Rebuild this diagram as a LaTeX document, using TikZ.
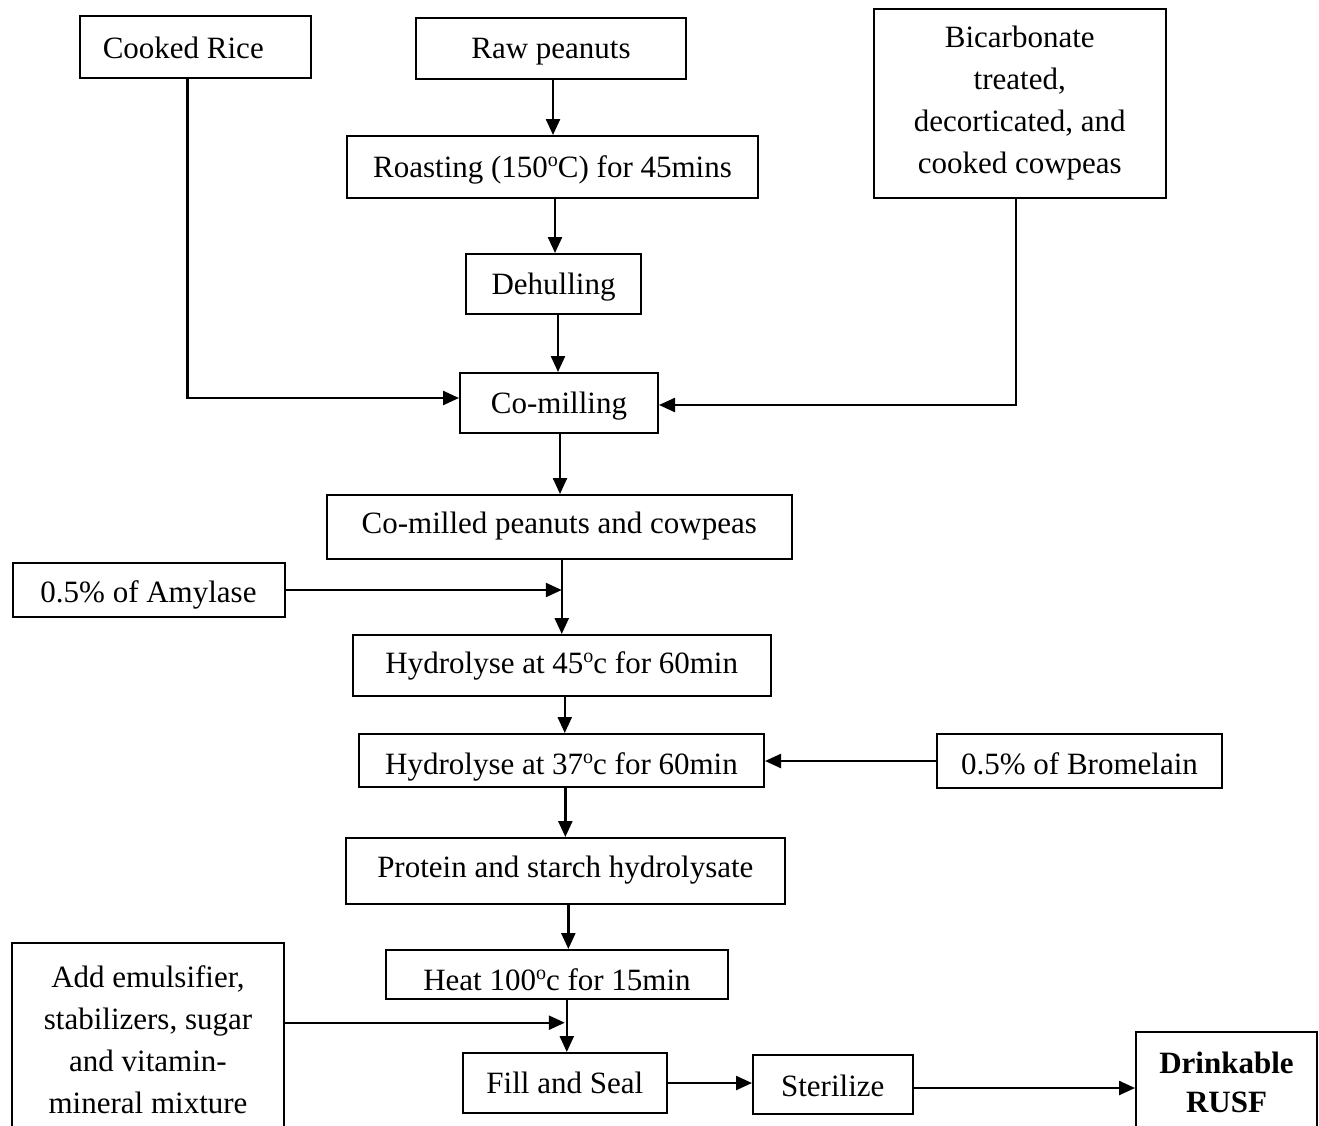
\documentclass[tikz,border=0pt]{standalone}
\usepackage{fontspec}
\setmainfont{Liberation Serif}
\usetikzlibrary{arrows.meta,calc}
\newcommand\degsup{\raisebox{0.36em}{\fontsize{20}{20}\selectfont o}}
\tikzset{
  box/.style={draw, line width=2pt, inner sep=0pt, align=center,
    font=\fontsize{31}{42}\selectfont},
  one/.style={text height=20.5pt, text depth=0pt},
  arr/.style={line width=2.4pt, -{Triangle[length=16pt,width=14pt]}}
}
\begin{document}
\begin{tikzpicture}[x=1pt,y=-1pt]
\useasboundingbox (0,0) rectangle (1319,1125);
\fill[white] (0,0) rectangle (1319,1125);
\clip (0,0) rectangle (1319,1125);
% nodes
\node[box, one, minimum width=231.5pt, minimum height=62pt] (rice) at (195.25,47) {\raisebox{-1pt}{Cooked Rice}\hspace*{24pt}};
\node[box, one, minimum width=270pt, minimum height=61pt] (raw) at (551,48.5) {Raw peanuts};
\node[box, one, minimum width=411pt, minimum height=62pt] (roast) at (552.5,167) {Roasting (150\degsup C) for 45mins};
\node[box, one, minimum width=175pt, minimum height=60pt] (dehull) at (553.5,284) {Dehulling};
\node[box, one, minimum width=198pt, minimum height=60pt] (comill) at (559,403) {Co-milling};
\node[box, minimum width=292.5pt, minimum height=189pt] (bicarb) at (1019.75,103.5) {Bicarbonate\\treated,\\decorticated, and\\cooked cowpeas};
\node[box, one, minimum width=465.5pt, minimum height=64pt] (comilled) at (559.25,527) {\raisebox{4pt}{Co-milled peanuts and cowpeas}};
\node[box, one, minimum width=272pt, minimum height=54pt] (amyl) at (148.5,590) {\raisebox{-2.5pt}{0.5\% of Amylase}};
\node[box, one, minimum width=418.5pt, minimum height=61pt] (hyd45) at (561.75,665.5) {\raisebox{2pt}{Hydrolyse at 45\degsup c for 60min}};
\node[box, one, minimum width=405pt, minimum height=53pt] (hyd37) at (561.5,760.5) {\raisebox{-3.5pt}{Hydrolyse at 37\degsup c for 60min}};
\node[box, one, minimum width=285pt, minimum height=54pt] (brom) at (1079.5,761) {\raisebox{-3pt}{0.5\% of Bromelain}};
\node[box, one, minimum width=439.3pt, minimum height=66pt] (protein) at (565.35,871) {\raisebox{4pt}{Protein and starch hydrolysate}};
\node[box, one, minimum width=342pt, minimum height=49pt] (heat) at (557,974.5) {\raisebox{-5.5pt}{Heat 100\degsup c for 15min}};
\node[box, minimum width=271.5pt, minimum height=194pt] (emuls) at (148,1040) {Add emulsifier,\\stabilizers, sugar\\and vitamin-\\mineral mixture};
\node[box, one, minimum width=204.4pt, minimum height=60pt] (fill) at (564.8,1083) {Fill and Seal};
\node[box, one, minimum width=159.5pt, minimum height=59pt] (steril) at (832.75,1084.5) {\raisebox{-1.5pt}{Sterilize}};
\node[box, minimum width=181pt, minimum height=101pt, font=\fontsize{31}{39}\selectfont\bfseries] (rusf) at (1226.5,1082.5) {Drinkable\\RUSF};
% connectors
\draw[arr] ([xshift=2pt]raw.south) -- ([xshift=2pt]raw.south |- roast.north);
\draw[arr] ([xshift=1.5pt]dehull.north |- roast.south) -- ([xshift=1.5pt]dehull.north);
\draw[arr] ([xshift=4.5pt]dehull.south) -- ([xshift=4.5pt]dehull.south |- comill.north);
\draw[arr] ([xshift=-7.75pt]rice.south) |- ([yshift=5pt]comill.west);
\draw[arr] ([xshift=-4pt]bicarb.south) |- ([yshift=-2pt]comill.east);
\draw[arr] ([xshift=1pt]comill.south) -- ([xshift=1pt]comill.south |- comilled.north);
\draw[arr] (hyd45.north |- comilled.south) -- (hyd45.north);
\draw[arr] (amyl.east) -- (amyl.east -| hyd45.north);
\draw[arr] ([xshift=3pt]hyd45.south) -- ([xshift=3pt]hyd45.south |- hyd37.north);
\draw[arr] (brom.west) -- (brom.west -| hyd37.east);
\draw[arr] (protein.north |- hyd37.south) -- (protein.north);
\draw[arr] ([xshift=3pt]protein.south) -- ([xshift=3pt]protein.south |- heat.north);
\draw[arr] ([xshift=2pt]fill.north |- heat.south) -- ([xshift=2pt]fill.north);
\draw[arr] ([yshift=17.3pt]emuls.east) -- ([yshift=17.3pt]emuls.east -| fill.north);
\draw[arr] (fill.east) -- (fill.east -| steril.west);
\draw[arr] ([yshift=-3.5pt]steril.east) -- ([yshift=-3.5pt]steril.east -| rusf.west);
\end{tikzpicture}
\end{document}
